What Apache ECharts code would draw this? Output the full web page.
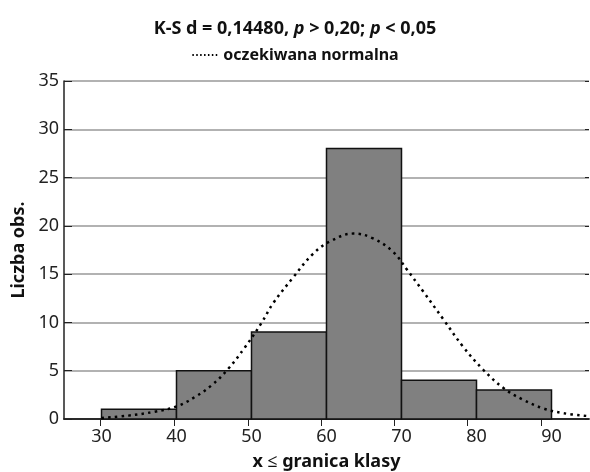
<!DOCTYPE html>
<html>
<head>
<meta charset="utf-8">
<script src="https://cdn.jsdelivr.net/npm/echarts@6/dist/echarts.min.js"></script>
<style>html,body{margin:0;padding:0;background:#fff}#c{width:590px;height:472px}</style>
</head>
<body>
<div id="c"></div>
<script>
// Histogram bins: [lower bound, upper bound]
var binStarts = [30, 40, 50, 60, 70, 80];
var binEnds = [40, 50, 60, 70, 80, 90];
var counts = [1, 5, 9, 28, 4, 3];
// Expected normal curve
var curveX = [30, 33.6, 37.1, 40, 42.5, 44.7, 46.9, 49.1, 51.3, 52.9, 55.6, 58.2, 60.5, 63.6, 66.2, 68.9, 70.7, 72.9, 75.6, 78.2, 80.9, 83.6, 86.2, 88.9, 91.6, 95];
var curveY = [0.1, 0.35, 0.76, 1.3, 2.3, 3.5, 5.2, 7.4, 9.9, 12.0, 14.7, 17.1, 18.4, 19.2, 18.7, 17.3, 15.5, 13.2, 10.3, 7.5, 5.1, 3.2, 2.0, 1.1, 0.6, 0.3];
var xTicks = [30, 40, 50, 60, 70, 80, 90];
var topTicks = [29.9, 39.7, 49.5, 59.3, 69.0, 78.8, 88.6];

var FONT = 'Noto Sans';
var chart = echarts.init(document.getElementById('c'));
var histData = binStarts.map(function (s, i) { return [s, binEnds[i], counts[i]]; });
var curveData = curveX.map(function (x, i) { return [x, curveY[i]]; });

chart.setOption({
  animation: false,
  textStyle: { fontFamily: FONT },
  title: {
    text: '{b|K-S d = 0,14480, }{i|p}{b| > 0,20; }{i|p}{b| < 0,05}',
    left: 'center', top: 15,
    textStyle: {
      fontFamily: FONT, fontSize: 18, fontWeight: 'bold',
      rich: {
        b: { fontFamily: FONT, fontWeight: 'bold', fontSize: 18, color: '#111' },
        i: { fontFamily: FONT, fontWeight: 'bold', fontStyle: 'italic', fontSize: 18, color: '#111' }
      }
    }
  },
  legend: {
    top: 42, left: 'center',
    data: ['oczekiwana normalna'],
    itemWidth: 26, itemHeight: 8, itemGap: 9,
    itemStyle: { opacity: 0 },
    lineStyle: { color: '#000', width: 2, type: [1.5, 2.4] },
    textStyle: { fontFamily: FONT, fontWeight: 'bold', fontSize: 16, color: '#111' }
  },
  grid: { left: 64, right: 1, top: 81, bottom: 53, containLabel: false, outerBoundsMode: 'none' },
  xAxis: [{
    type: 'value', min: 25, max: 95, position: 'bottom',
    axisLine: { lineStyle: { color: '#222', width: 1.5 } },
    axisTick: { show: false },
    splitLine: { show: false },
    axisLabel: { customValues: xTicks, fontSize: 18, color: '#222', margin: 9 },
    name: 'x ≤ granica klasy', nameLocation: 'middle', nameGap: 34,
    nameTextStyle: { fontWeight: 'bold', fontSize: 18, color: '#111' }
  }, {
    type: 'value', min: 25, max: 95, position: 'top',
    axisLine: { show: true, lineStyle: { color: '#222', width: 1.5 } },
    axisTick: { show: true, inside: true, length: 7, customValues: topTicks, lineStyle: { color: '#222' } },
    axisLabel: { show: false },
    splitLine: { show: false }
  }],
  yAxis: [{
    type: 'value', min: 0, max: 35, interval: 5, position: 'left',
    axisLine: { show: true, lineStyle: { color: '#222', width: 1.5 } },
    axisTick: { show: true, inside: true, length: 8, lineStyle: { color: '#222' } },
    splitLine: { show: true, lineStyle: { color: '#999', width: 1.5 } },
    axisLabel: { fontSize: 18, color: '#222', margin: 5 },
    name: 'Liczba obs.', nameLocation: 'middle', nameGap: 32,
    nameTextStyle: { fontWeight: 'bold', fontSize: 18, color: '#111' }
  }, {
    type: 'value', min: 0, max: 35, interval: 5, position: 'right',
    axisLine: { show: false },
    axisTick: { show: true, inside: true, length: 4, lineStyle: { color: '#222' } },
    axisLabel: { show: false },
    splitLine: { show: false }
  }],
  series: [{
    type: 'custom',
    xAxisIndex: 0, yAxisIndex: 0,
    data: histData,
    encode: { x: [0, 1], y: 2 },
    renderItem: function (params, api) {
      var p0 = api.coord([api.value(0), api.value(2)]);
      var p1 = api.coord([api.value(1), 0]);
      return {
        type: 'rect',
        shape: { x: p0[0], y: p0[1], width: p1[0] - p0[0], height: p1[1] - p0[1] },
        style: { fill: '#808080', stroke: '#111', lineWidth: 1.5 }
      };
    },
    z: 2
  }, {
    name: 'oczekiwana normalna',
    type: 'line',
    xAxisIndex: 0, yAxisIndex: 0,
    data: curveData,
    smooth: 0.4,
    symbol: 'none',
    lineStyle: { color: '#000', width: 2.5, type: [2.5, 4.2] },
    itemStyle: { color: '#000' },
    z: 3
  }]
});
</script>
</body>
</html>
